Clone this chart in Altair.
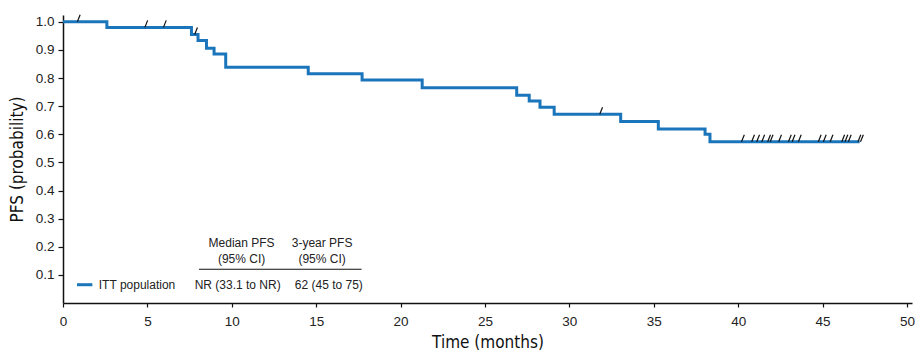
import altair as alt
import pandas as pd

# Kaplan-Meier step data (months, PFS probability)
step_times = [0, 2.6, 7.61, 8.0, 8.5, 8.95, 9.64, 14.53, 17.72, 21.28, 26.88,
              27.62, 28.26, 29.10, 33.04, 35.27, 38.04, 38.33]
step_surv = [1.0, 0.98, 0.955, 0.933, 0.906, 0.885, 0.838, 0.815, 0.793, 0.765,
             0.739, 0.718, 0.696, 0.671, 0.645, 0.619, 0.600, 0.573]
end_time = 47.2

# censoring times (months)
censor_times = [0.85, 4.85, 5.95, 7.8, 31.8,
                40.2, 40.8, 41.1, 41.4, 41.75, 41.9, 42.4, 42.98, 43.2, 43.57,
                44.75, 45.05, 45.45, 46.14, 46.33, 46.53, 47.1, 47.25]

x_ticks = [0, 5, 10, 15, 20, 25, 30, 35, 40, 45, 50]
y_ticks = [0.1, 0.2, 0.3, 0.4, 0.5, 0.6, 0.7, 0.8, 0.9, 1.0]

# table annotation
header_text = ["Median PFS", "(95% CI)", "3-year PFS", "(95% CI)", "NR (33.1 to NR)", "62 (45 to 75)"]
header_x = [10.58, 10.58, 15.35, 15.35, 10.35, 15.75]
header_y = [0.213, 0.155, 0.213, 0.155, 0.065, 0.065]
legend_label = "ITT population"

BLUE = "#1b75bb"
NARROW = "DejaVu Sans Condensed, Liberation Sans Narrow, sans-serif"
SANS = "Liberation Sans, Arial, sans-serif"


def surv_at(t):
    s = step_surv[0]
    for tt, ss in zip(step_times, step_surv):
        if tt <= t:
            s = ss
    return s


line_df = pd.DataFrame({"t": step_times + [end_time], "s": step_surv + [step_surv[-1]]})
cens_df = pd.DataFrame({"t": censor_times, "s": [surv_at(t) for t in censor_times]})
text_df = pd.DataFrame({"x": header_x, "y": header_y, "label": header_text})

xscale = alt.Scale(domain=[0, 50.3], nice=False, zero=False)
yscale = alt.Scale(domain=[0, 1.024], nice=False, zero=False)

xaxis = alt.Axis(values=x_ticks, title="Time (months)", grid=False, labelFontSize=13.5,
                 labelFont=SANS, labelColor="#222", labelPadding=7, labelOverlap=False,
                 labelFlush=False,
                 titleFont=NARROW, titleFontSize=17, titleFontWeight="normal",
                 titleColor="#111", titlePadding=7, tickSize=4, tickColor="#111",
                 domainColor="#111", domainWidth=1.5, tickWidth=1.2)
yaxis = alt.Axis(values=y_ticks, format=".1f", title="PFS (probability)", grid=False,
                 labelFontSize=13.5, labelFont=SANS, labelColor="#222", labelPadding=4,
                 labelOverlap=False, labelBound=False, labelFlush=False,
                 titleFont=NARROW, titleFontSize=17, titleFontWeight="normal",
                 titleColor="#111", titlePadding=9, tickSize=5, tickColor="#111",
                 domainColor="#111", domainWidth=1.5, tickWidth=1.2)


def X(f):
    return alt.X(f, type="quantitative", scale=xscale, axis=xaxis)


def Y(f):
    return alt.Y(f, type="quantitative", scale=yscale, axis=yaxis)


line = alt.Chart(line_df).mark_line(interpolate="step-after", color=BLUE, strokeWidth=3).encode(
    x=X("t"), y=Y("s"),
)

cens = alt.Chart(cens_df).mark_point(shape="M0,0L0.4,-1", size=196, filled=False,
                                      stroke="#111", strokeWidth=1.2, opacity=1).encode(
    x=X("t"), y=Y("s"),
)

texts = alt.Chart(text_df).mark_text(fontSize=12, font=SANS, color="#222",
                                      baseline="middle", align="center").encode(
    x=X("x"), y=Y("y"), text="label:N",
)

rule_df = pd.DataFrame({"x": [8.06], "x2": [17.69], "y": [0.120]})
table_rule = alt.Chart(rule_df).mark_rule(color="#111", strokeWidth=1.2).encode(
    x=X("x"), x2="x2:Q", y=Y("y")
)

leg_df = pd.DataFrame({"x": [0.83], "x2": [1.74], "y": [0.065], "lx": [2.12], "label": [legend_label]})
leg_line = alt.Chart(leg_df).mark_rule(color=BLUE, strokeWidth=3).encode(
    x=X("x"), x2="x2:Q", y=Y("y")
)
leg_text = alt.Chart(leg_df).mark_text(fontSize=12, font=SANS, color="#222",
                                        baseline="middle", align="left").encode(
    x=X("lx"), y=Y("y"), text="label:N"
)

chart = alt.layer(line, cens, texts, table_rule, leg_line, leg_text).properties(
    width=849, height=288,
    autosize=alt.AutoSizeParams(type="none"),
    padding={"left": 55, "top": 7, "right": 3, "bottom": 50},
    background="white",
).configure_view(stroke=None)

chart.save("out.html", embed_options={"renderer": "svg", "actions": False})
